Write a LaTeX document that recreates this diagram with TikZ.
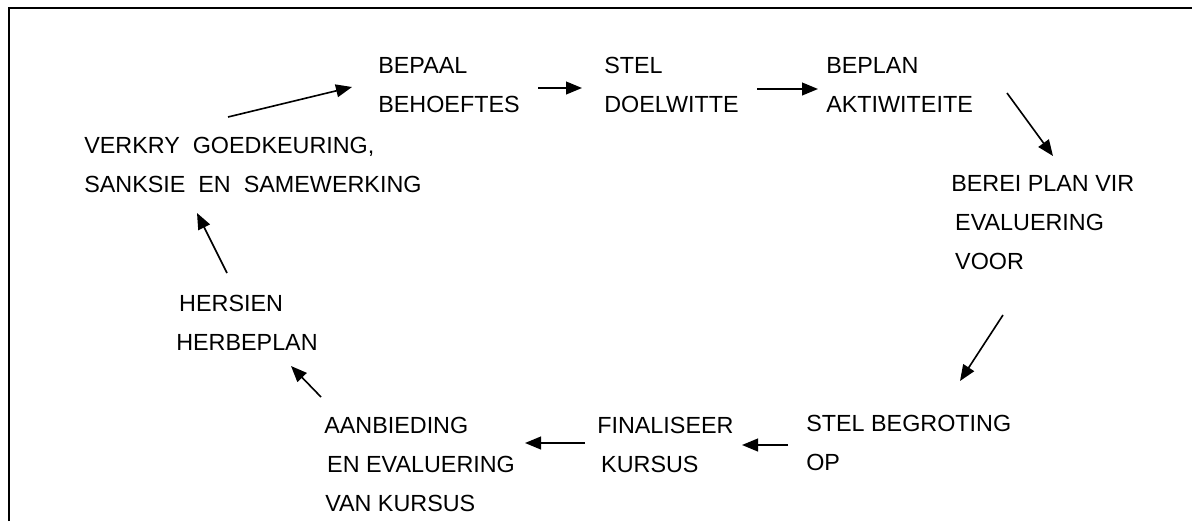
\documentclass[tikz,border=0pt]{standalone}
\usepackage{fontspec}
\setmainfont{Liberation Sans}
\usetikzlibrary{arrows.meta}

\begin{document}
\begin{tikzpicture}[
        x=0.025cm, y=-0.025cm,
        % Text blocks and arrow styles
        stepnode/.style={anchor=north west, inner sep=0pt, align=left, font=\fontsize{16.6}{27.7}\selectfont},
        flow/.style={-{Triangle[length=0.4cm, width=0.32cm]}, line width=1.15pt, black},
        frame/.style={line width=1.4pt, black}
    ]
    \useasboundingbox (0,0) rectangle (1192,521);

    % Frame: only top and left edge
    \draw[frame] (9,521) -- (9,8) -- (1192,8);

    % Top row
    \node[stepnode] (bepaal) at (378,57) {BEPAAL\\BEHOEFTES};
    \node[stepnode] (stel) at (604,57) {STEL\\DOELWITTE};
    \node[stepnode] (beplan) at (826,57) {BEPLAN\\AKTIWITEITE};

    % Right side
    \node[stepnode] (berei) at (951,175) {BEREI PLAN VIR\\\hspace*{2.8pt}EVALUERING\\\hspace*{2.8pt}VOOR};

    % Bottom row
    \node[stepnode] (begroting) at (806,415) {STEL BEGROTING\\OP};
    \node[stepnode] (finaliseer) at (597,417) {FINALISEER\\\hspace*{2.8pt}KURSUS};
    \node[stepnode] (aanbieding) at (324,417) {AANBIEDING\\\hspace*{2.1pt}EN EVALUERING\\\hspace*{0.7pt}VAN KURSUS};

    % Left side
    \node[stepnode] (hersien) at (176,295) {\hspace*{2.1pt}HERSIEN\\HERBEPLAN};
    \node[stepnode] (verkry) at (84,137) {VERKRY\ \ GOEDKEURING,\\SANKSIE\ \ EN\ \ SAMEWERKING};

    % Cycle arrows
    \draw[flow] ([shift={(144,-20)}]verkry.north west) -- ([shift={(-26,30)}]bepaal.north west);
    \draw[flow] ([shift={(160,31)}]bepaal.north west) -- ([shift={(-22,31)}]stel.north west);
    \draw[flow] ([shift={(153,32)}]stel.north west) -- ([shift={(-8,32)}]beplan.north west);
    \draw[flow] ([shift={(181,36)}]beplan.north west) -- ([shift={(102,-19)}]berei.north west);
    \draw[flow] ([shift={(52,140)}]berei.north west) -- ([shift={(154,-34)}]begroting.north west);
    \draw[flow] ([shift={(-18,30)}]begroting.north west) -- ([shift={(145,28)}]finaliseer.north west);
    \draw[flow] ([shift={(-12,26)}]finaliseer.north west) -- ([shift={(201,26)}]aanbieding.north west);
    \draw[flow] ([shift={(-3,-20)}]aanbieding.north west) -- ([shift={(115,71)}]hersien.north west);
    \draw[flow] ([shift={(51,-22)}]hersien.north west) -- ([shift={(113,76)}]verkry.north west);

\end{tikzpicture}
\end{document}
